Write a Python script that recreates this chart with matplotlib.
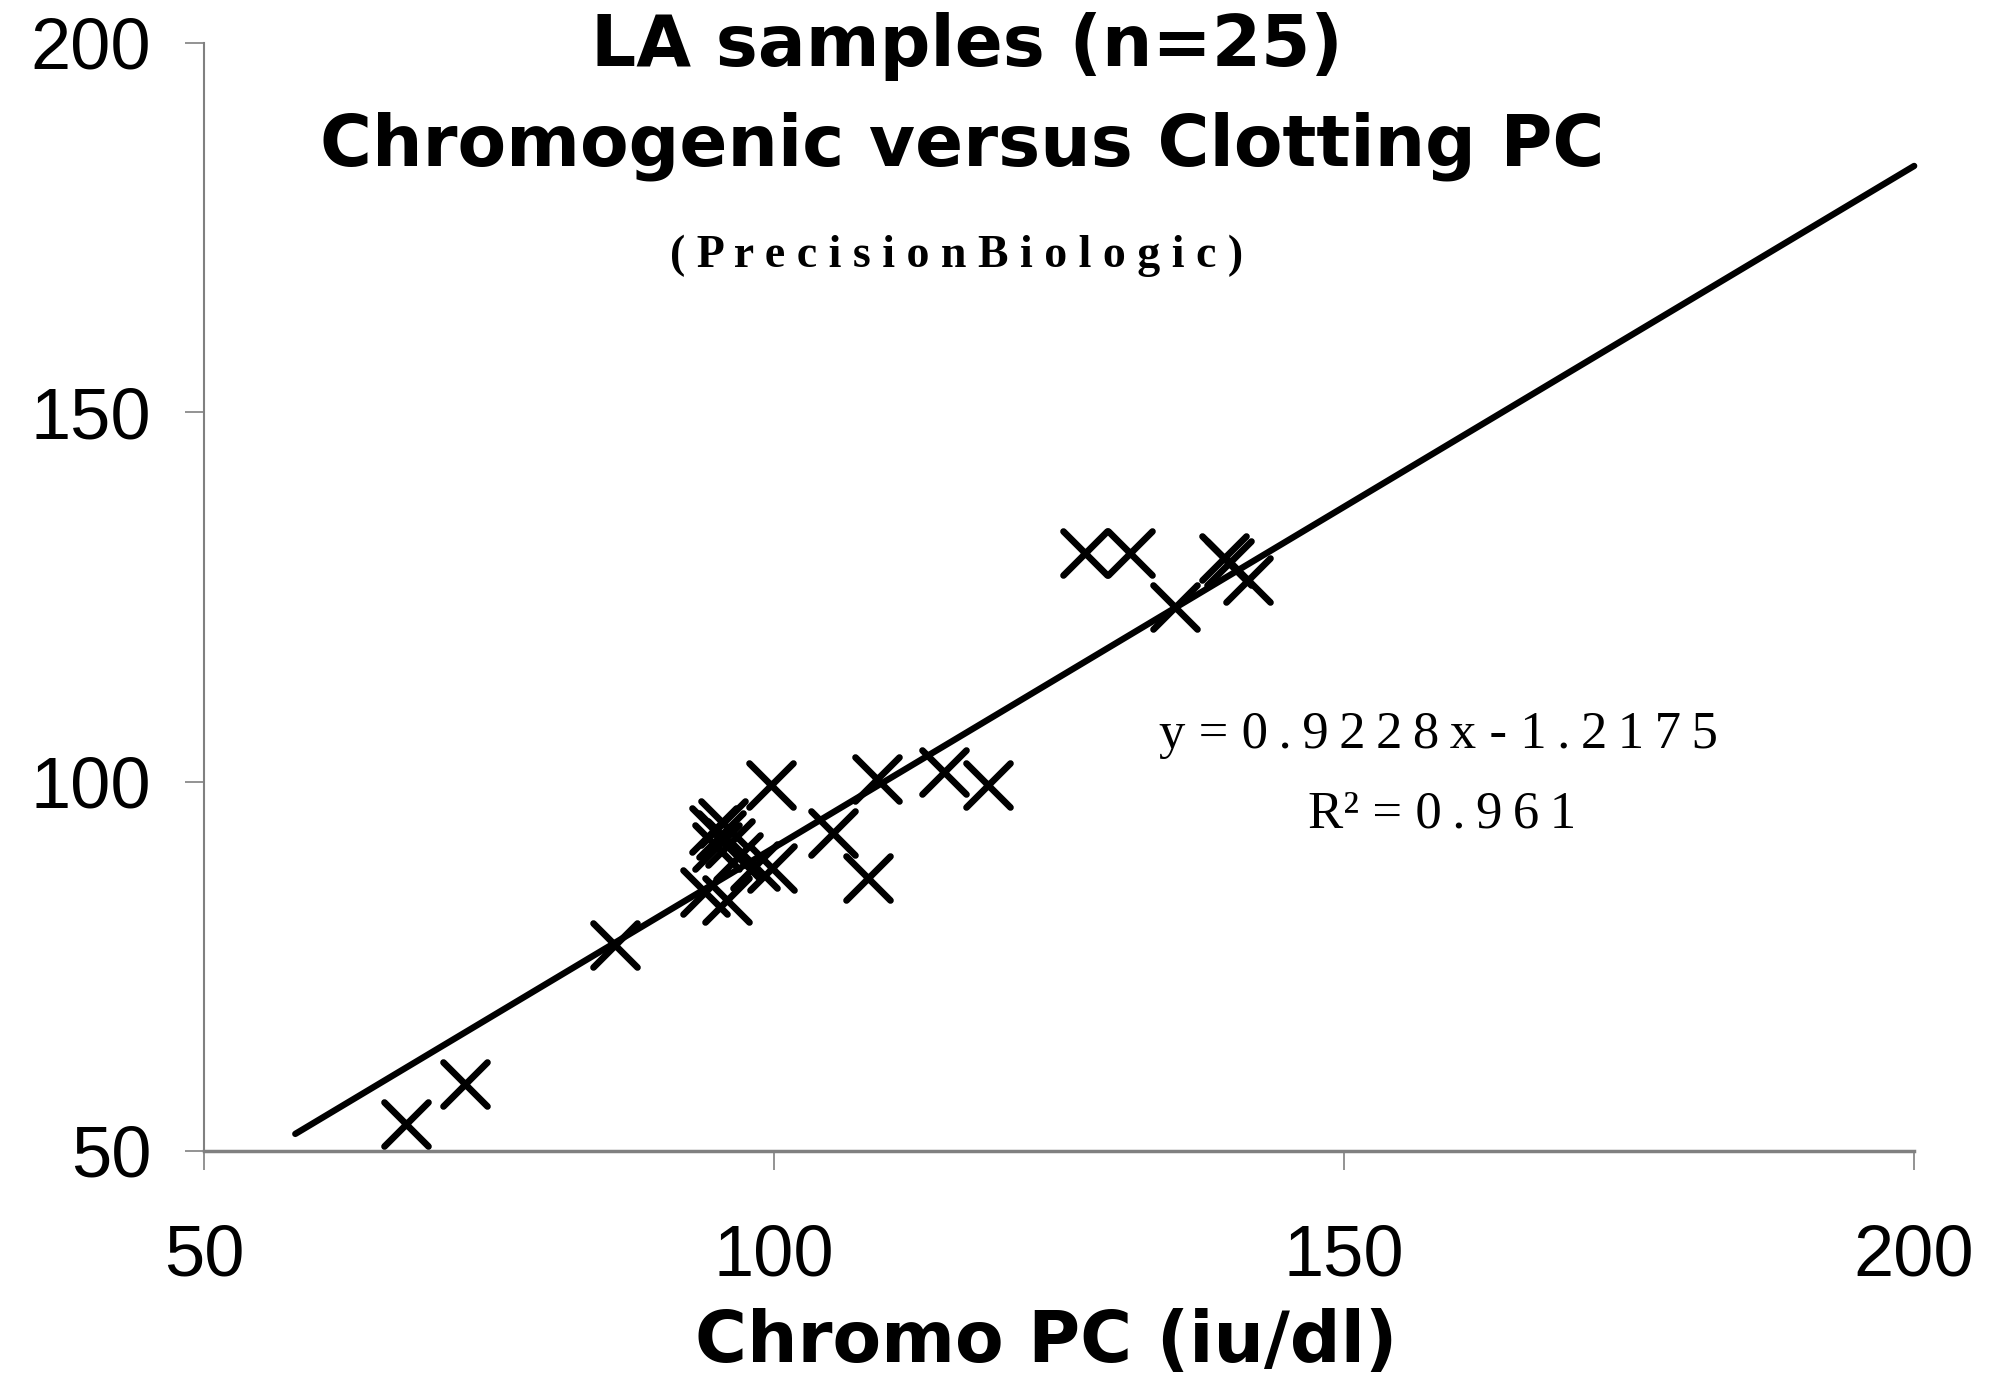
import matplotlib.pyplot as plt
from matplotlib.markers import MarkerStyle

########################### Data ####################################

# Chromogenic PC vs clotting PC, LA samples (n=25)
chromo_pc = [67.7, 72.9, 86.0, 93.9, 95.9, 94.7, 95.5, 95.3, 96.1, 95.0,
             96.8, 98.3, 99.8, 99.7, 105.2, 108.2, 109.0, 114.9, 118.8, 127.3,
             131.2, 135.2, 139.5, 139.9, 141.6]
clotting_pc = [53.7, 59.0, 77.9, 85.1, 84.0, 93.5, 94.4, 92.8, 91.7, 91.2,
               89.8, 88.6, 88.3, 99.5, 93.0, 86.9, 100.3, 101.3, 99.5, 130.9,
               130.9, 123.7, 130.3, 129.6, 127.3]

# linear trend line
slope = 0.9228
intercept = -1.2175
r_squared = 0.961
fit_x = [58, 200]
fit_y = [slope * v + intercept for v in fit_x]

x_ticks = [50, 100, 150, 200]
y_ticks = [50, 100, 150, 200]


def spaced(s):
    # thin spaces between characters, like the wide-set Excel label
    return '\u2009'.join(s)


########################### Plot ####################################

fig = plt.figure(figsize=(20.01, 13.8), dpi=100)
ax = fig.add_axes([0.102, 0.166, 0.8546, 0.8029])

cross = MarkerStyle('x', capstyle='round')
ax.plot(chromo_pc, clotting_pc, linestyle='none', marker=cross,
        markersize=31, markeredgewidth=4.8, color='black', zorder=3)
ax.plot(fit_x, fit_y, color='black', linewidth=4.6,
        solid_capstyle='round', zorder=2, clip_on=False)

ax.set_xlim(50, 200)
ax.set_ylim(50, 200)
ax.set_xticks(x_ticks)
ax.set_yticks(y_ticks)

for side in ['top', 'right']:
    ax.spines[side].set_visible(False)
ax.spines['left'].set_color('#808080')
ax.spines['left'].set_linewidth(1.5)
ax.spines['bottom'].set_color('#808080')
ax.spines['bottom'].set_linewidth(2.5)

ax.tick_params(axis='both', direction='out', length=14, width=1.2,
               color='#808080', labelsize=52, labelcolor='black')
ax.tick_params(axis='x', pad=38)
ax.tick_params(axis='y', pad=24)
for lbl in ax.get_xticklabels() + ax.get_yticklabels():
    lbl.set_family('Liberation Sans')

# titles
fig.text(0.483, 0.952, 'LA samples (n=25)', ha='center', va='baseline',
         fontsize=51, fontweight='bold', family='DejaVu Sans')
fig.text(0.481, 0.880, 'Chromogenic versus Clotting PC', ha='center',
         va='baseline', fontsize=51, fontweight='bold', family='DejaVu Sans')
fig.text(0.478, 0.8065, '( P r e c i s i o n B i o l o g i c )', ha='center',
         va='baseline', fontsize=33, fontweight='bold', family='Liberation Serif')

# axis label
fig.text(0.523, 0.013, 'Chromo PC (iu/dl)', ha='center', va='baseline',
         fontsize=51, fontweight='bold', family='DejaVu Sans')

# regression equation
eq = 'y = ' + spaced(f'{slope}x') + ' - ' + spaced(f'{abs(intercept)}')
fig.text(0.719, 0.458, eq, ha='center', va='baseline', fontsize=38,
         family='Liberation Serif')
fig.text(0.7205, 0.400, 'R\u00b2 = ' + spaced(f'{r_squared}'), ha='center',
         va='baseline', fontsize=38, family='Liberation Serif')

plt.savefig('out.png', dpi=100)
